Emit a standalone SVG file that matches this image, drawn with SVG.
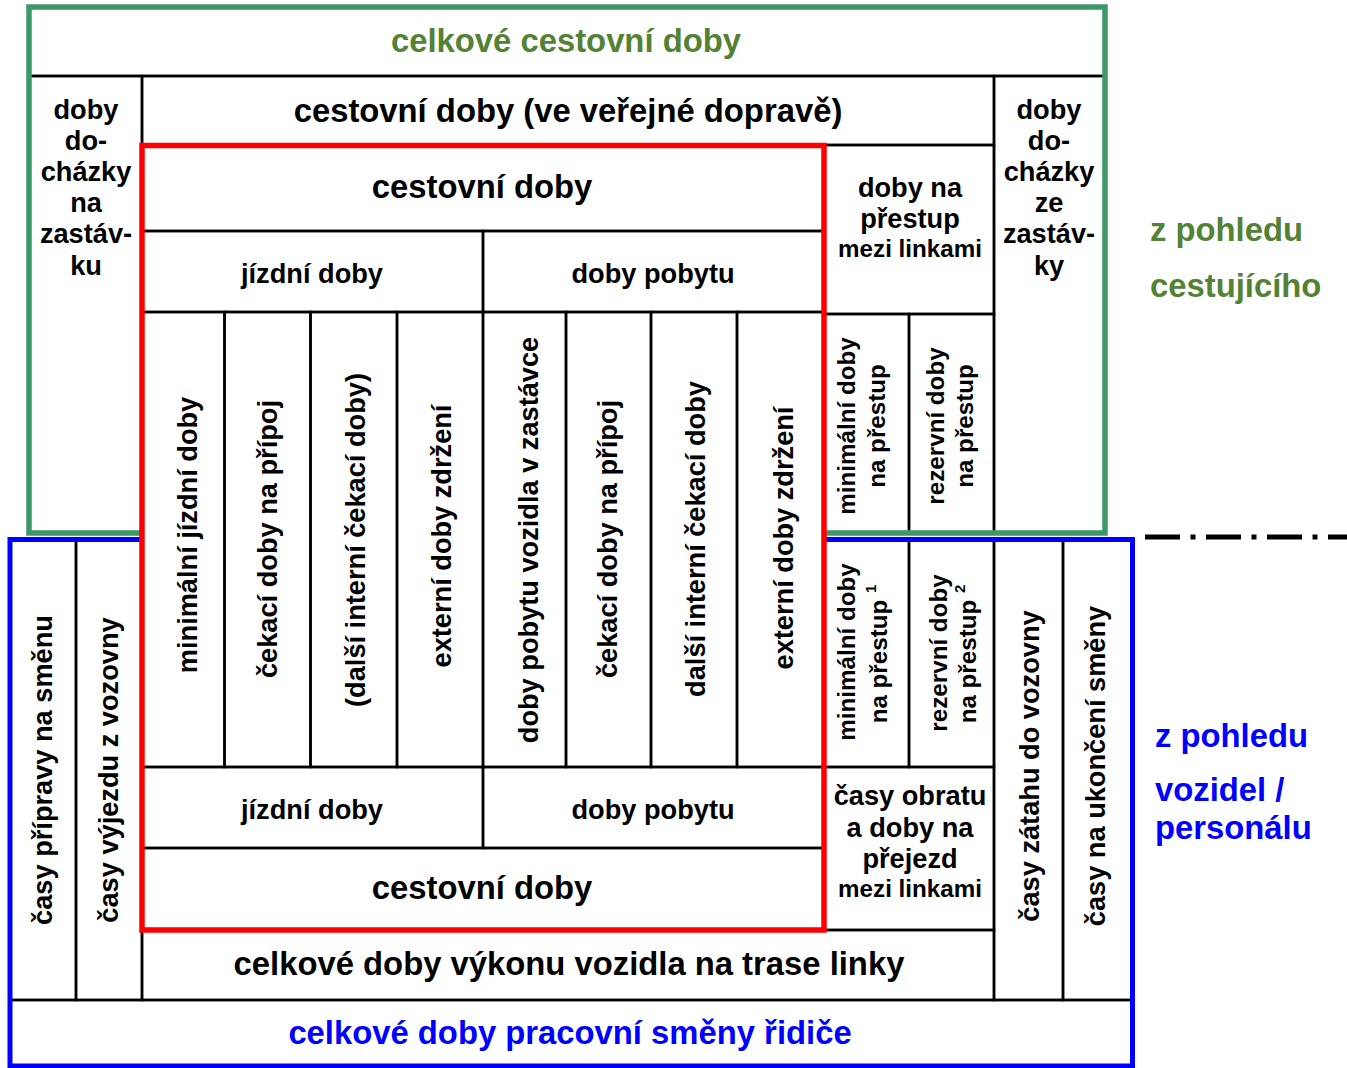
<svg xmlns="http://www.w3.org/2000/svg" width="1347" height="1068" viewBox="0 0 1347 1068">
  <defs>
    <style>
      .t { font-family: "Liberation Sans", Arial, sans-serif; font-weight: bold; fill: #000; text-anchor: middle; }
      .big { font-size: 32.8px; }
      .mid { font-size: 27.2px; }
      .sm { font-size: 24.2px; }
      .sup { font-size: 15px; }
      .grn { fill: #548235; }
      .blu { fill: #0000ff; }
      .lbl { text-anchor: start; }
      .cell { fill: none; stroke: #000; stroke-width: 2.5; }
      .frame-g { fill: none; stroke: #3b9968; stroke-width: 5.5; }
      .frame-b { fill: none; stroke: #0000ff; stroke-width: 5; }
      .frame-r { fill: none; stroke: #ff0000; stroke-width: 5.5; }
      .sep { fill: none; stroke: #000; stroke-width: 5; stroke-dasharray: 35 10.5 5 10.5; }
    </style>
  </defs>

  <rect x="0" y="0" width="1347" height="1068" fill="#fff"/>

  <!-- passenger's view: upper block -->
  <g id="celkove-cestovni-doby">
    <rect class="cell" x="29" y="7" width="1076" height="69"/>
    <text class="t big grn" x="566" y="51.5">celkové cestovní doby</text>
  </g>
  <g id="dochazka-na-zastavku">
    <rect class="cell" x="29" y="76" width="113" height="457"/>
    <text class="t mid" x="86" y="119">doby</text>
    <text class="t mid" x="86" y="150">do-</text>
    <text class="t mid" x="86" y="181">cházky</text>
    <text class="t mid" x="86" y="212">na</text>
    <text class="t mid" x="86" y="243">zastáv-</text>
    <text class="t mid" x="86" y="275">ku</text>
  </g>
  <g id="cestovni-doby-vd">
    <rect class="cell" x="142" y="76" width="852" height="69"/>
    <text class="t big" x="568" y="121.5">cestovní doby (ve veřejné dopravě)</text>
  </g>
  <g id="dochazka-ze-zastavky">
    <rect class="cell" x="994" y="76" width="111" height="457"/>
    <text class="t mid" x="1049" y="119">doby</text>
    <text class="t mid" x="1049" y="150">do-</text>
    <text class="t mid" x="1049" y="181">cházky</text>
    <text class="t mid" x="1049" y="212">ze</text>
    <text class="t mid" x="1049" y="243">zastáv-</text>
    <text class="t mid" x="1049" y="275">ky</text>
  </g>
  <g id="prestup-mezi-linkami">
    <rect class="cell" x="824" y="145" width="170" height="169"/>
    <text class="t mid" x="910" y="197">doby na</text>
    <text class="t mid" x="910" y="228">přestup</text>
    <text class="t sm" x="910" y="257">mezi linkami</text>
  </g>
  <g id="min-prestup-horni">
    <rect class="cell" x="824" y="314" width="85" height="219"/>
    <text class="t sm" transform="translate(855,426) rotate(-90)">minimální doby</text>
    <text class="t sm" transform="translate(885,426) rotate(-90)">na přestup</text>
  </g>
  <g id="rez-prestup-horni">
    <rect class="cell" x="909" y="314" width="85" height="219"/>
    <text class="t sm" transform="translate(944,426) rotate(-90)">rezervní doby</text>
    <text class="t sm" transform="translate(973,426) rotate(-90)">na přestup</text>
  </g>

  <!-- travel time core -->
  <g id="cestovni-doby-horni">
    <rect class="cell" x="142" y="145" width="682" height="86"/>
    <text class="t big" x="482" y="198">cestovní doby</text>
  </g>
  <g id="jizdni-doby-horni">
    <rect class="cell" x="142" y="231" width="341" height="81"/>
    <text class="t mid" x="312" y="283">jízdní doby</text>
  </g>
  <g id="doby-pobytu-horni">
    <rect class="cell" x="483" y="231" width="341" height="81"/>
    <text class="t mid" x="653" y="283">doby pobytu</text>
  </g>
  <g id="min-jizdni-doby">
    <rect class="cell" x="142" y="312" width="82.5" height="455"/>
    <text class="t mid" transform="translate(197,535) rotate(-90)">minimální jízdní doby</text>
  </g>
  <g id="cekaci-pripoj-1">
    <rect class="cell" x="224.5" y="312" width="86" height="455"/>
    <text class="t mid" transform="translate(277,539) rotate(-90)">čekací doby na přípoj</text>
  </g>
  <g id="interni-cekaci-1">
    <rect class="cell" x="310.5" y="312" width="86.5" height="455"/>
    <text class="t mid" transform="translate(365,540) rotate(-90)">(další interní čekací doby)</text>
  </g>
  <g id="externi-zdrzeni-1">
    <rect class="cell" x="397" y="312" width="86" height="455"/>
    <text class="t mid" transform="translate(451,536) rotate(-90)">externí doby zdržení</text>
  </g>
  <g id="pobyt-v-zastavce">
    <rect class="cell" x="483" y="312" width="83" height="455"/>
    <text class="t mid" transform="translate(538,540) rotate(-90)">doby pobytu vozidla v zastávce</text>
  </g>
  <g id="cekaci-pripoj-2">
    <rect class="cell" x="566" y="312" width="85" height="455"/>
    <text class="t mid" transform="translate(617,539) rotate(-90)">čekací doby na přípoj</text>
  </g>
  <g id="interni-cekaci-2">
    <rect class="cell" x="651" y="312" width="86" height="455"/>
    <text class="t mid" transform="translate(705,539) rotate(-90)">další interní čekací doby</text>
  </g>
  <g id="externi-zdrzeni-2">
    <rect class="cell" x="737" y="312" width="87" height="455"/>
    <text class="t mid" transform="translate(793,538) rotate(-90)">externí doby zdržení</text>
  </g>
  <g id="jizdni-doby-dolni">
    <rect class="cell" x="142" y="767" width="341" height="81"/>
    <text class="t mid" x="312" y="819">jízdní doby</text>
  </g>
  <g id="doby-pobytu-dolni">
    <rect class="cell" x="483" y="767" width="341" height="81"/>
    <text class="t mid" x="653" y="819">doby pobytu</text>
  </g>
  <g id="cestovni-doby-dolni">
    <rect class="cell" x="142" y="848" width="682" height="82"/>
    <text class="t big" x="482" y="899">cestovní doby</text>
  </g>

  <!-- vehicle / staff view: lower block -->
  <g id="min-prestup-dolni">
    <rect class="cell" x="824" y="539" width="85" height="228"/>
    <text class="t sm" transform="translate(855,652) rotate(-90)">minimální doby</text>
    <text class="t sm" transform="translate(887,654) rotate(-90)">na přestup <tspan class="sup" dy="-11">1</tspan></text>
  </g>
  <g id="rez-prestup-dolni">
    <rect class="cell" x="909" y="539" width="85" height="228"/>
    <text class="t sm" transform="translate(947,653) rotate(-90)">rezervní doby</text>
    <text class="t sm" transform="translate(976,654) rotate(-90)">na přestup <tspan class="sup" dy="-11">2</tspan></text>
  </g>
  <g id="obrat-prejezd">
    <rect class="cell" x="824" y="767" width="170" height="163"/>
    <text class="t mid" x="910" y="805">časy obratu</text>
    <text class="t mid" x="910" y="837">a doby na</text>
    <text class="t mid" x="910" y="868">přejezd</text>
    <text class="t sm" x="910" y="897">mezi linkami</text>
  </g>
  <g id="vykon-na-trase">
    <rect class="cell" x="142" y="930" width="852" height="70"/>
    <text class="t big" x="569" y="975">celkové doby výkonu vozidla na trase linky</text>
  </g>
  <g id="priprava-na-smenu">
    <rect class="cell" x="10" y="539" width="66" height="461"/>
    <text class="t mid" transform="translate(52,770) rotate(-90)">časy přípravy na směnu</text>
  </g>
  <g id="vyjezd-z-vozovny">
    <rect class="cell" x="76" y="539" width="66" height="461"/>
    <text class="t mid" transform="translate(118,770) rotate(-90)">časy výjezdu z vozovny</text>
  </g>
  <g id="zatah-do-vozovny">
    <rect class="cell" x="994" y="539" width="69" height="461"/>
    <text class="t mid" transform="translate(1039,766) rotate(-90)">časy zátahu do vozovny</text>
  </g>
  <g id="ukonceni-smeny">
    <rect class="cell" x="1063" y="539" width="69.5" height="461"/>
    <text class="t mid" transform="translate(1105,766) rotate(-90)">časy na ukončení směny</text>
  </g>
  <g id="pracovni-smena">
    <rect class="cell" x="10" y="1000" width="1122.5" height="66"/>
    <text class="t big blu" x="570" y="1044">celkové doby pracovní směny řidiče</text>
  </g>

  <!-- coloured frames -->
  <g id="frames">
    <path class="frame-g" d="M142,533 H29 V7 H1105 V533 H824"/>
    <path class="frame-b" d="M142,539.5 H10 V1066 H1132.5 V539.5 H824"/>
    <rect class="frame-r" x="142" y="145.5" width="682" height="784.5"/>
  </g>

  <!-- boundary between the two viewpoints -->
  <g id="connectors">
    <line class="sep" x1="1145" y1="537" x2="1347" y2="537"/>
  </g>

  <!-- viewpoint captions -->
  <g id="pohled-cestujiciho">
    <text class="t big grn lbl" x="1150" y="241">z pohledu</text>
    <text class="t big grn lbl" x="1150" y="297">cestujícího</text>
  </g>
  <g id="pohled-vozidel">
    <text class="t big blu lbl" x="1155" y="747">z pohledu</text>
    <text class="t big blu lbl" x="1155" y="801">vozidel /</text>
    <text class="t big blu lbl" x="1155" y="839">personálu</text>
  </g>
</svg>
